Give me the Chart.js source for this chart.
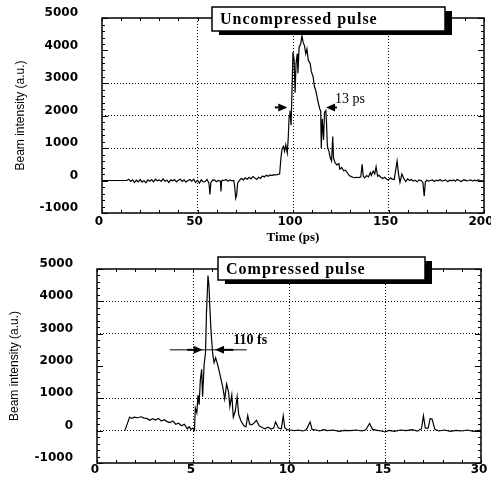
<!DOCTYPE html>
<html>
<head>
<meta charset="utf-8">
<script src="https://cdn.jsdelivr.net/npm/chart.js@4.4.1/dist/chart.umd.min.js"></script>
<style>
  body { margin: 0; background: #fff; }
  #wrap { position: relative; width: 491px; height: 479px; }
  canvas { position: absolute; left: 0; }
  #top { top: 0; }
  #bottom { top: 248px; }
</style>
</head>
<body>
<div id="wrap">
  <canvas id="top" width="491" height="248"></canvas>
  <canvas id="bottom" width="491" height="231"></canvas>
</div>
<script>
// uncompressed pulse (time in ps, beam intensity a.u.)
const topTime = [
  0, 13, 14, 15, 16, 17, 18, 19, 20, 21, 22, 23, 24, 25, 26, 27, 28, 29, 30,
  31, 32, 33, 34, 35, 36, 37, 38, 39, 40, 41, 42, 43, 44, 45, 46, 47, 48, 49, 50,
  51, 52, 53, 54, 55, 56, 56.5, 57, 58, 59, 60, 61, 62, 62.3, 62.6, 63, 64, 65,
  66, 67, 68, 69, 69.5, 70, 70.5, 71, 72, 73, 74, 75, 76, 77, 78, 79, 80, 81, 82,
  83, 84, 85, 86, 87, 88, 89, 90, 91, 92, 93, 93.7, 94.3, 95, 95.6, 96.2, 97,
  97.5, 98, 98.4, 99, 99.5, 100, 100.6, 101.1, 101.6, 102.2, 102.6, 103.2, 104,
  104.7, 105.3, 106, 106.7, 107.3, 108, 109, 109.6, 110.5, 111.2, 112, 113, 114,
  114.5, 114.8, 115.3, 116, 116.5, 117.2, 117.6, 118, 118.8, 119.5, 120.2, 120.8,
  121.2, 122, 123, 124, 124.5, 125.5, 126.5, 127.5, 128.5, 129.5, 130.5, 131.5,
  132.5, 133.5, 134.5, 135.5, 136.2, 136.8, 137.5, 138.5, 139.5, 140.5, 141, 142,
  142.8, 143.5, 144.3, 145, 146, 147, 148, 149, 150, 151, 152, 153, 154.5, 155.2,
  156, 157, 158, 159, 160, 161, 162, 163, 164, 165, 166, 167, 168, 168.7, 169.3,
  170, 171, 172, 173, 174, 175, 176, 177, 178, 179, 180, 181, 182, 183, 184, 185,
  186, 187, 188, 189, 190, 191, 192, 193, 194, 195, 196, 197, 198, 199, 200
];
const topBeam = [
  0, 0, 40, -30, 20, -60, 10, -40, 30, -50, 0, -70, 20, -20, 30, -40, 40, -10, 20,
  -30, 50, -20, 10, -60, 20, -10, 30, -40, 10, 40, -30, 20, -50, 0, 30, -20, 40, -60, 10,
  -80, 20, -40, -30, 30, -80, -430, -60, 20, 10, -40, 0, -20, -340, -30, 10, 0, 30,
  -20, 20, -10, 0, -200, -550, -450, -80, 10, 60, 20, 80, 40, 100, 50, 120, 80, 30, 100,
  60, 140, 110, 160, 130, 170, 150, 180, 170, 190, 200, 700, 980, 1050, 900, 1100, 850,
  1300, 2000, 2150, 1700, 2800, 3950, 3700, 2700, 3600, 3900, 3300, 4100, 4200,
  4450, 4250, 4150, 3900, 4050, 3700, 3600, 3350, 3200, 2900, 2750, 2450, 2200,
  2150, 1000, 1900, 1250, 2100, 2150, 1700, 1050, 900, 700, 600, 1350,
  700, 550, 480, 520, 350, 400, 300, 320, 230, 150, 120, 100,
  90, 100, 90, 110, 500, 130, 80, 150, 110, 240, 160, 290,
  200, 420, 130, 160, 100, 60, 100, 40, 20, 80, 40, 30, 600, 220,
  -60, 200, 60, -30, 50, 0, 30, -20, 10, -40, 20, 0, -60, -480, -40,
  10, -20, 0, 20, -30, 10, -10, 30, -20, 0, 20, -40, 10, -10, 20, -20,
  30, 0, -30, 10, 20, -10, 0, 20, -20, 10, -10, 20, 0, -10, 0
];

// compressed pulse
const botTime = [
  1.45, 1.7, 1.8, 1.95, 2.1, 2.3, 2.45, 2.6, 2.75, 2.9, 3.05, 3.2, 3.35, 3.5, 3.65,
  3.8, 3.95, 4.1, 4.25, 4.4, 4.55, 4.7, 4.8, 4.9, 5.0, 5.08, 5.12, 5.2, 5.26, 5.32,
  5.38, 5.45, 5.5, 5.58, 5.65, 5.7, 5.78, 5.83, 5.88, 5.94, 6.03, 6.1, 6.18, 6.28,
  6.4, 6.55, 6.65, 6.75, 6.85, 6.92, 7.02, 7.1, 7.2, 7.3, 7.38, 7.5, 7.65, 7.76,
  7.85, 7.95, 8.07, 8.2, 8.3, 8.45, 8.6, 8.75, 8.9, 9.05, 9.2, 9.3, 9.45, 9.6, 9.7,
  9.78, 9.9, 10.05, 10.3, 10.5, 10.7, 10.9, 11.1, 11.2, 11.4, 11.6, 11.8, 12, 12.3,
  12.6, 12.9, 13.2, 13.5, 13.8, 14.0, 14.2, 14.35, 14.6, 14.8, 15.0, 15.2, 15.5,
  15.8, 16.1, 16.4, 16.7, 16.9, 17.0, 17.1, 17.25, 17.35, 17.45, 17.6, 17.8, 18.1,
  18.4, 18.7, 19.0, 19.3, 19.6, 19.9, 20
];
const botBeam = [
  0, 420, 380, 420, 400, 430, 390, 380, 320, 370, 330, 380, 300, 340, 280,
  250, 300, 200, 230, 150, 200, 60, 120, 40, 80, 20, 700, 550, 1100, 800,
  1550, 1900, 1050, 2050, 2400, 3600, 4800, 4500, 3800, 3050, 2350, 2100, 2250, 2050,
  1750, 1350, 980, 1450, 1200, 750, 1100, 420, 600, 1050, 500, 300, 150, 120,
  470, 200, 180, 250, 320, 150, 100, 60, 110, 50, 80, 270, 80, 60, 460,
  90, 30, 20, 0, 20, -10, 30, 270, 40, 20, -10, 30, 0, 20,
  -20, 10, 0, 20, -10, 30, 220, 40, 10, -10, -40, 10, -20,
  20, 0, 30, -10, 60, 460, 80, 80, 370, 360, 40, -10, 20,
  -20, 10, -10, 20, -20, 10, 0
];

// tick labels of the lower axis (the original prints 30 at the right end)
const botXLabels = ['0', '5', '10', '15', '30'];

// pulse width markers
const topWidth = { left: [90.5, 97], right: [123, 117.3], level: 2250, text: '13 ps', tx: 122, ty: 2500 };
const botWidth = { line: [3.8, 7.8], left: [4.7, 5.5], right: [7.1, 6.15], level: 2500, text: '110 fs', tx: 7.1, ty: 2800 };

const tickFont = { family: '"DejaVu Sans", sans-serif', size: 12, weight: 'bold' };
const yTitleFont = { family: '"Liberation Sans Narrow", "Liberation Sans", sans-serif', size: 12 };

const framePlugin = {
  id: 'frame',
  afterDraw(chart, args, o) {
    const { ctx, chartArea: a } = chart;
    const sx = chart.scales.x, sy = chart.scales.y;
    ctx.save();
    ctx.strokeStyle = '#000';
    ctx.fillStyle = '#000';
    ctx.lineWidth = 1;
    ctx.setLineDash([]);
    // minor ticks, pointing inward on all four sides
    ctx.beginPath();
    for (let v = sy.min; v <= sy.max + 1e-6; v += o.yMinor) {
      const p = Math.round(sy.getPixelForValue(v)) + 0.5;
      const len = Math.abs(v % 1000) < 1e-6 ? 6 : 3;
      ctx.moveTo(a.left, p); ctx.lineTo(a.left + len, p);
      ctx.moveTo(a.right, p); ctx.lineTo(a.right - len, p);
    }
    for (let v = sx.min; v <= sx.max + 1e-6; v += o.xMinor) {
      const p = Math.round(sx.getPixelForValue(v)) + 0.5;
      ctx.moveTo(p, a.bottom); ctx.lineTo(p, a.bottom - 3);
      ctx.moveTo(p, a.top); ctx.lineTo(p, a.top + 3);
    }
    ctx.stroke();
    // frame
    ctx.lineWidth = 1.5;
    ctx.strokeRect(a.left, a.top, a.right - a.left, a.bottom - a.top);

    // pulse width marker
    const w = o.width;
    const ly = sy.getPixelForValue(w.level);
    if (w.line) {
      ctx.lineWidth = 1;
      ctx.beginPath();
      ctx.moveTo(sx.getPixelForValue(w.line[0]), ly);
      ctx.lineTo(sx.getPixelForValue(w.line[1]), ly);
      ctx.stroke();
    }
    [w.left, w.right].forEach(([base, tip]) => {
      const bx = sx.getPixelForValue(base), tx = sx.getPixelForValue(tip);
      const dir = Math.sign(tx - bx);
      const hx = tx - dir * Math.min(9, Math.abs(tx - bx));
      ctx.lineWidth = 2;
      ctx.beginPath();
      ctx.moveTo(bx, ly); ctx.lineTo(hx, ly);
      ctx.stroke();
      ctx.beginPath();
      ctx.moveTo(tx, ly);
      ctx.lineTo(hx, ly - 4);
      ctx.lineTo(hx, ly + 4);
      ctx.closePath();
      ctx.fill();
    });
    ctx.font = o.markFont;
    ctx.textAlign = 'left';
    ctx.textBaseline = 'middle';
    ctx.fillText(w.text, sx.getPixelForValue(w.tx), sy.getPixelForValue(w.ty));

    // title box with drop shadow
    const b = o.box;
    ctx.fillRect(b.x + 7, b.y + 4, b.w, b.h);
    ctx.fillStyle = '#fff';
    ctx.fillRect(b.x, b.y, b.w, b.h);
    ctx.lineWidth = 1.5;
    ctx.strokeRect(b.x, b.y, b.w, b.h);
    ctx.fillStyle = '#000';
    ctx.font = 'bold 16px "Liberation Serif", serif';
    ctx.letterSpacing = '1px';
    ctx.textBaseline = 'middle';
    ctx.fillText(b.text, b.x + 8, b.y + b.h / 2 + 1);
    ctx.restore();
  }
};

function gridColor(list) {
  return c => (c.tick && list.includes(c.tick.value)) ? '#000' : 'rgba(0,0,0,0)';
}

const plainNumber = v => String(v);

new Chart(document.getElementById('top'), {
  type: 'line',
  data: {
    datasets: [{
      data: topTime.map((t, i) => ({ x: t, y: topBeam[i] })),
      borderColor: '#000', borderWidth: 1.2, pointRadius: 0, tension: 0, fill: false
    }]
  },
  options: {
    responsive: false, animation: false, events: [],
    layout: { padding: { top: 18, right: 7, left: 0, bottom: 0 } },
    plugins: {
      legend: { display: false }, tooltip: { enabled: false },
      frame: {
        yMinor: 200, xMinor: 10,
        width: topWidth, markFont: '14px "Liberation Serif", serif',
        box: { x: 212, y: 7, w: 233, h: 24, text: 'Uncompressed pulse' }
      }
    },
    scales: {
      x: {
        type: 'linear', min: 0, max: 200,
        afterFit: s => { s.height = 35; s.paddingLeft = 0; s.paddingRight = 0; },
        ticks: { stepSize: 50, padding: 2, labelOffset: -3, maxRotation: 0, color: '#000', font: tickFont, callback: plainNumber },
        grid: { color: gridColor([50, 100, 150]), drawTicks: false, lineWidth: 1 },
        border: { display: false, dash: [1, 2] },
        title: { display: true, text: 'Time (ps)', color: '#000', padding: { top: 0, bottom: 3 },
          font: { family: '"Liberation Serif", serif', size: 13, weight: 'bold' } }
      },
      y: {
        min: -1000, max: 5000,
        afterFit: s => { s.width = 102; s.paddingTop = 0; s.paddingBottom = 0; },
        ticks: { stepSize: 1000, padding: 24, labelOffset: -5, color: '#000', font: tickFont, callback: plainNumber },
        grid: { color: gridColor([1000, 2000, 3000]), drawTicks: false, lineWidth: 1 },
        border: { display: false, dash: [1, 2] },
        title: { display: true, text: 'Beam intensity (a.u.)', color: '#000', padding: { top: 13, bottom: 0 }, font: yTitleFont }
      }
    }
  },
  plugins: [framePlugin]
});

new Chart(document.getElementById('bottom'), {
  type: 'line',
  data: {
    datasets: [{
      data: botTime.map((t, i) => ({ x: t, y: botBeam[i] })),
      borderColor: '#000', borderWidth: 1.2, pointRadius: 0, tension: 0, fill: false
    }]
  },
  options: {
    responsive: false, animation: false, events: [],
    layout: { padding: { top: 21, right: 10, left: 0, bottom: 0 } },
    plugins: {
      legend: { display: false }, tooltip: { enabled: false },
      frame: {
        yMinor: 200, xMinor: 1,
        width: botWidth, markFont: 'bold 14px "Liberation Serif", serif',
        box: { x: 218, y: 9, w: 207, h: 23, text: 'Compressed pulse' }
      }
    },
    scales: {
      x: {
        type: 'linear', min: 0, max: 20,
        afterFit: s => { s.height = 16; s.paddingLeft = 0; s.paddingRight = 0; },
        ticks: { stepSize: 5, padding: 0, labelOffset: -2, maxRotation: 0, color: '#000', font: tickFont,
          callback: (v, i) => botXLabels[i] },
        grid: { color: gridColor([5, 10, 15]), drawTicks: false, lineWidth: 1 },
        border: { display: false, dash: [1, 2] }
      },
      y: {
        min: -1000, max: 5000,
        afterFit: s => { s.width = 97; s.paddingTop = 0; s.paddingBottom = 0; },
        ticks: { stepSize: 1000, padding: 24, labelOffset: -5, color: '#000', font: tickFont, callback: plainNumber },
        grid: { color: gridColor([0, 1000, 3000, 4000]), drawTicks: false, lineWidth: 1 },
        border: { display: false, dash: [1, 2] },
        title: { display: true, text: 'Beam intensity (a.u.)', color: '#000', padding: { top: 7, bottom: 0 }, font: yTitleFont }
      }
    }
  },
  plugins: [framePlugin]
});
</script>
</body>
</html>
